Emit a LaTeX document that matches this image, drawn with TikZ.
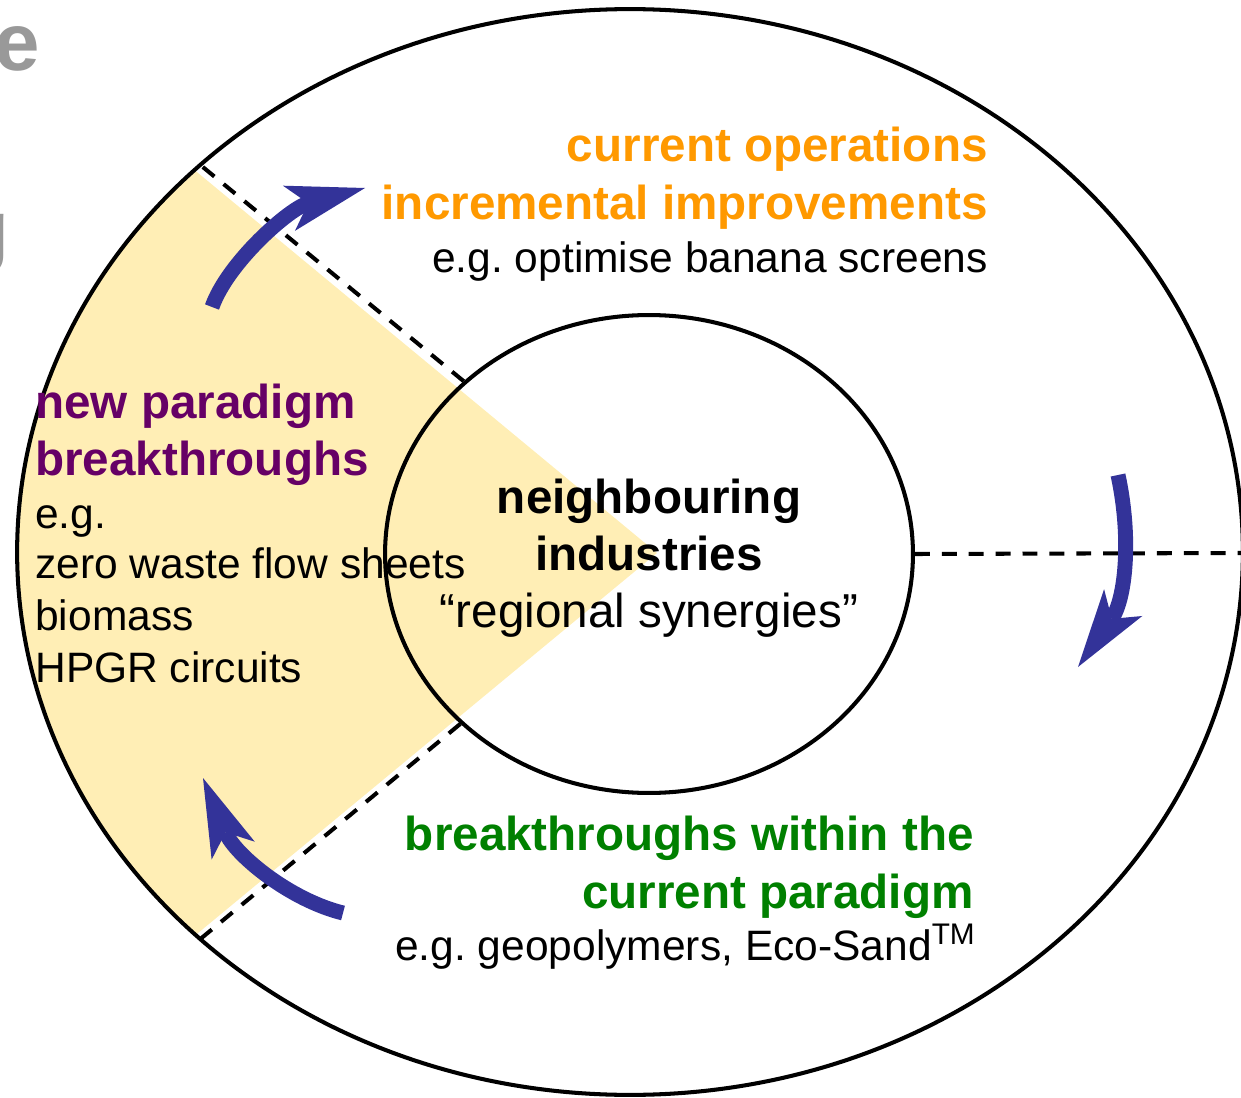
\documentclass[tikz,border=0pt]{standalone}
\usepackage{fontspec}
\setmainfont{Liberation Sans}
\frenchspacing
\usetikzlibrary{shapes.geometric,arrows.meta}
\definecolor{orangeT}{HTML}{FF9900}
\definecolor{purpleT}{HTML}{660066}
\definecolor{greenT}{HTML}{008000}
\definecolor{arrowblue}{HTML}{333399}
\definecolor{wedgeyellow}{HTML}{FFEEB5}
\definecolor{titlegray}{HTML}{999999}
\tikzset{
  body/.style={font=\fontsize{24.2pt}{29pt}\selectfont, inner sep=0pt},
  bigbody/.style={font=\fontsize{27.1pt}{32pt}\selectfont, inner sep=0pt},
  head/.style={font=\fontsize{27.1pt}{32pt}\selectfont\bfseries, inner sep=0pt},
  titlefrag/.style={font=\fontsize{46.5pt}{56pt}\selectfont\bfseries, text=titlegray, inner sep=0pt},
  ring/.style={draw, ellipse, line width=2.3pt, inner sep=0pt},
  divider/.style={line width=2.3pt, dash pattern=on 8.5pt off 6.8pt},
  bluearrow/.style={draw=arrowblue, line width=8.5pt,
    -{Stealth[length=44.8pt, width=26.6pt, inset=11.3pt, line width=0pt, fill=arrowblue]}}
}
\begin{document}
\begin{tikzpicture}[x=0.02cm,y=-0.02cm]
\useasboundingbox (0,0) rectangle (1241,1098);
% yellow wedge
\begin{scope}
  \clip (630,552) ellipse [x radius=12.26cm, y radius=10.86cm];
  \fill[wedgeyellow] (657,553) -- (0,9) -- (0,1097) -- cycle;
\end{scope}
% rings
\node[ring, minimum width=24.52cm, minimum height=21.72cm] (outer) at (630,552) {};
\node[ring, minimum width=10.56cm, minimum height=9.56cm] (inner) at (649,554) {};
% dashed dividers
\coordinate (rightend) at (1241,553);
\draw[divider] (inner.137.6) -- (outer.138.7);
\draw[divider] (inner.-138) -- (outer.-138.5);
\draw[divider] (inner.east) -- (rightend);
% title fragments
\node[titlefrag, anchor=base east] (t1) at (40,71) {e};
\node[titlefrag, anchor=base east] (t2) at (10,257) {g};
% top-right text
\node[head, text=orangeT, anchor=base east] (co) at (988,162) {current operations};
\node[head, text=orangeT, anchor=base east] (ii) at (988,220) {incremental improvements};
\node[body, anchor=base east] (eg1) at (988,273) {e.g. optimise banana screens};
% left text
\node[head, text=purpleT, anchor=base west] (np) at (35,418) {new paradigm};
\node[head, text=purpleT, anchor=base west] (bt) at (35,475) {breakthroughs};
\node[body, anchor=base west] (eg2) at (35,528) {e.g.};
\node[body, anchor=base west] (zw) at (35,578) {zero waste flow sheets};
\node[body, anchor=base west] (bm) at (35,630) {biomass};
\node[body, anchor=base west] (hp) at (35,682) {HPGR circuits};
% centre text
\node[head, anchor=base] (ni) at (649,513) {neighbouring};
\node[head, anchor=base] (ind) at (649,570) {industries};
\node[bigbody, anchor=base] (rs) at (649,627) {“regional synergies”};
% bottom text
\node[head, text=greenT, anchor=base east] (bw) at (974,850) {breakthroughs within the};
\node[head, text=greenT, anchor=base east] (cp) at (974,908) {current paradigm};
\node[body, anchor=base east] (eg3) at (976,960) {e.g. geopolymers, Eco-Sand\textsuperscript{TM}};
% arrows
\coordinate (a1s) at (212,307); \coordinate (a1e) at (365,188);
\coordinate (a2s) at (1118,475); \coordinate (a2e) at (1078,667);
\coordinate (a3s) at (343,913); \coordinate (a3e) at (203,778);
\draw[bluearrow] (a1s) .. controls (228,262) and (290,208) .. (a1e);
\draw[bluearrow] (a2s) .. controls (1132,540) and (1125,600) .. (a2e);
\draw[bluearrow] (a3s) .. controls (290,900) and (235,855) .. (a3e);
\end{tikzpicture}
\end{document}
